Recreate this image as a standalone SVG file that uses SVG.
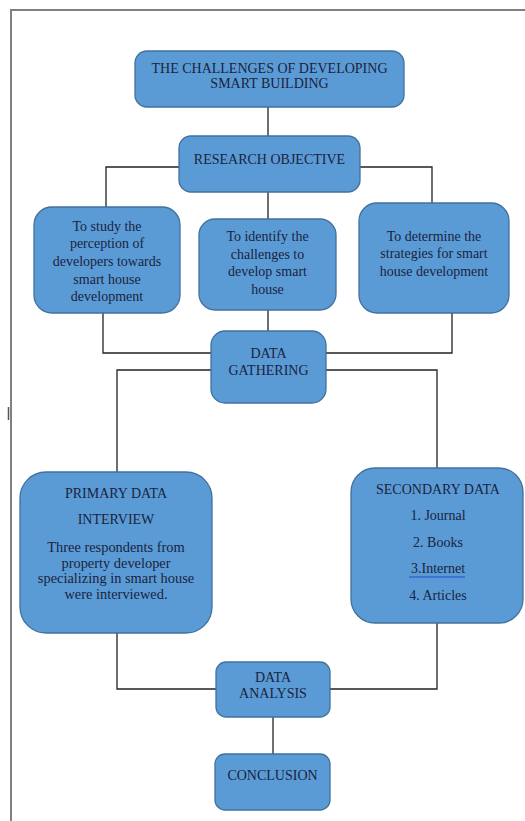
<svg xmlns="http://www.w3.org/2000/svg" width="525" height="821" viewBox="0 0 525 821">
<style>
.box{fill:#5B9BD5;stroke:#41719C;stroke-width:1.3}
.t{font-family:"Liberation Serif","Times New Roman",serif;font-size:14px;fill:#1a2340;text-anchor:middle}
.s{font-size:14.4px}
.c{fill:none;stroke:#222;stroke-width:1.3}
.frame{fill:none;stroke:#808080;stroke-width:2}
</style>
<rect width="525" height="821" fill="#ffffff"/>
<g id="frame">
<path class="frame" d="M525,10 H11 V821"/>
<line x1="8.5" y1="407" x2="8.5" y2="420" stroke="#555" stroke-width="1.5"/>
</g>
<g id="connectors">
<path class="c" d="M268,107 V136"/>
<path class="c" d="M179,167 H106 V207"/>
<path class="c" d="M360,167 H432 V204"/>
<path class="c" d="M268,192 V219"/>
<path class="c" d="M268,310 V331"/>
<path class="c" d="M103,313 V353 H211"/>
<path class="c" d="M452,313 V353 H326"/>
<path class="c" d="M211,370 H117 V472"/>
<path class="c" d="M326,370 H437 V468"/>
<path class="c" d="M117,633 V689 H216"/>
<path class="c" d="M437,623 V689 H330"/>
<path class="c" d="M273,717 V754"/>
</g>
<g id="title">
<rect class="box" x="135" y="51" width="269" height="56" rx="12"/>
<text class="t" x="269.5" y="73">THE CHALLENGES OF DEVELOPING</text>
<text class="t" x="269.5" y="88">SMART BUILDING</text>
</g>
<g id="research-objective">
<rect class="box" x="179" y="136" width="181" height="56" rx="12"/>
<text class="t" x="269.5" y="164">RESEARCH OBJECTIVE</text>
</g>
<g id="objective-1">
<rect class="box" x="34" y="207" width="146" height="106" rx="18"/>
<text class="t" x="107" y="231">To study the</text>
<text class="t" x="107" y="248">perception of</text>
<text class="t" x="107" y="266">developers towards</text>
<text class="t" x="107" y="284">smart house</text>
<text class="t" x="107" y="301">development</text>
</g>
<g id="objective-2">
<rect class="box" x="199" y="219" width="137" height="91" rx="16"/>
<text class="t" x="267.5" y="241">To identify the</text>
<text class="t" x="267.5" y="259">challenges to</text>
<text class="t" x="267.5" y="276">develop smart</text>
<text class="t" x="267.5" y="294">house</text>
</g>
<g id="objective-3">
<rect class="box" x="359" y="203" width="150" height="110" rx="18"/>
<text class="t" x="434" y="241">To determine the</text>
<text class="t" x="434" y="258">strategies for smart</text>
<text class="t" x="434" y="276">house development</text>
</g>
<g id="data-gathering">
<rect class="box" x="211" y="331" width="115" height="72" rx="14"/>
<text class="t" x="268.5" y="358">DATA</text>
<text class="t" x="268.5" y="375">GATHERING</text>
</g>
<g id="primary-data">
<rect class="box" x="20" y="472" width="192" height="161" rx="26"/>
<text class="t" x="116" y="498">PRIMARY DATA</text>
<text class="t" x="116" y="524">INTERVIEW</text>
<text class="t s" x="116" y="552">Three respondents from</text>
<text class="t s" x="116" y="568">property developer</text>
<text class="t s" x="116" y="583">specializing in smart house</text>
<text class="t s" x="116" y="599">were interviewed.</text>
</g>
<g id="secondary-data">
<rect class="box" x="351" y="468" width="172" height="155" rx="24"/>
<text class="t" x="438" y="494">SECONDARY DATA</text>
<text class="t" x="438" y="520">1. Journal</text>
<text class="t" x="438" y="547">2. Books</text>
<text class="t" x="438" y="573">3.Internet</text>
<line x1="409" y1="577" x2="465" y2="577" stroke="#1f4fd1" stroke-width="1.2"/>
<text class="t" x="438" y="600">4. Articles</text>
</g>
<g id="data-analysis">
<rect class="box" x="216" y="662" width="114" height="55" rx="10"/>
<text class="t" x="273" y="682">DATA</text>
<text class="t" x="273" y="698">ANALYSIS</text>
</g>
<g id="conclusion">
<rect class="box" x="215" y="754" width="115" height="56" rx="10"/>
<text class="t" x="272.5" y="780">CONCLUSION</text>
</g>
</svg>
